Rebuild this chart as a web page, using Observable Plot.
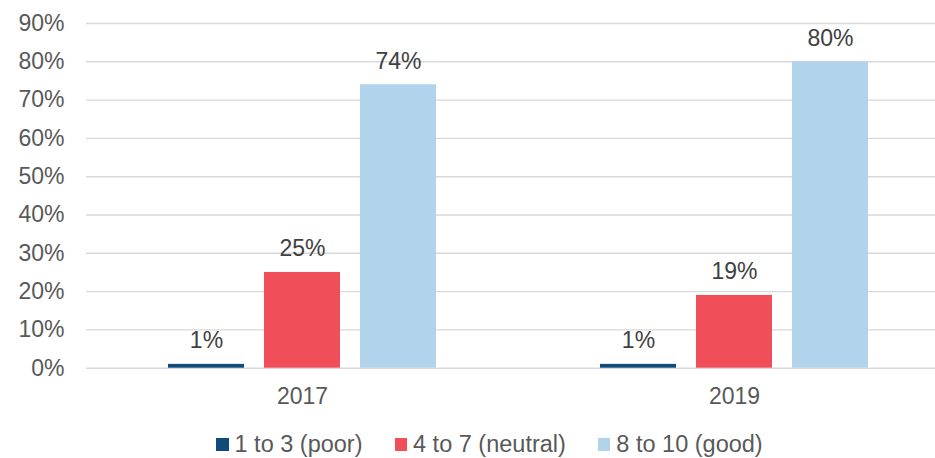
<!DOCTYPE html>
<html>
<head>
<meta charset="utf-8">
<script src="https://cdn.jsdelivr.net/npm/d3@7"></script>
<script src="https://cdn.jsdelivr.net/npm/@observablehq/plot@0.6"></script>
<style>
  html, body { margin: 0; padding: 0; background: #fff; }
  body { width: 935px; height: 458px; overflow: hidden; font-family: "Liberation Sans", Arial, sans-serif; }
  #chart svg { display: block; }
  .legend { display: flex; align-items: center; padding-left: 216px; margin-top: 23px; color: #595959; font-size: 23.5px; line-height: 23px; height: 23px; }
  .legend .item { display: flex; align-items: center; margin-right: 32px; }
  .legend .sw { width: 12.5px; height: 12.5px; margin-right: 6px; }
</style>
</head>
<body>
<div id="chart"></div>
<script>
const years = ["2017", "2019"];
const categories = ["1 to 3 (poor)", "4 to 7 (neutral)", "8 to 10 (good)"];
const values2017 = [1, 25, 74];
const values2019 = [1, 19, 80];
const colors = ["#0f4c7b", "#f04f5a", "#b1d3eb"];
const yTicks = [0, 10, 20, 30, 40, 50, 60, 70, 80, 90];

const seriesByYear = [values2017, values2019];
const rows = [];
years.forEach((year, yi) => {
  categories.forEach((category, ci) => {
    rows.push({year, yi, category, ci, value: seriesByYear[yi][ci]});
  });
});

const groupStep = 4.5;   // spacing between year groups (in bar steps)
const half = 0.396;      // half bar width (in bar steps)
const pos = d => d.yi * groupStep + d.ci;
const groupCenter = yi => yi * groupStep + (categories.length - 1) / 2;

const chart = Plot.plot({
  width: 935,
  height: 410,
  marginLeft: 86,
  marginRight: 0,
  marginTop: 23,
  marginBottom: 42.3,
  style: {fontFamily: "'Liberation Sans', Arial, sans-serif", fontSize: "23px", color: "#595959", background: "#fff"},
  x: {type: "linear", domain: [-1.25, 7.594], label: null},
  y: {domain: [0, 90], label: null},
  color: {domain: categories, range: colors},
  marks: [
    Plot.ruleY(yTicks, {stroke: "#d9d9d9", strokeWidth: 1.4}),
    Plot.rectY(rows, {x1: d => pos(d) - half, x2: d => pos(d) + half, y: "value", fill: "category"}),
    Plot.text(rows, {x: pos, y: "value", text: d => d.value + "%", lineAnchor: "bottom", dy: -16, fill: "#404040", fontSize: 23}),
    Plot.axisY({ticks: yTicks, tickFormat: d => d + "%", tickSize: 0, tickPadding: 22, fontSize: 23, label: null}),
    Plot.axisX({ticks: years.map((y, i) => groupCenter(i)), tickFormat: v => years[Math.round((v - 1) / groupStep)], tickSize: 0, tickPadding: 19, fontSize: 23, label: null})
  ]
});
document.getElementById("chart").appendChild(chart);

const legend = document.createElement("div");
legend.className = "legend";
categories.forEach((c, i) => {
  const item = document.createElement("div");
  item.className = "item";
  const sw = document.createElement("span");
  sw.className = "sw";
  sw.style.background = colors[i];
  const label = document.createElement("span");
  label.textContent = c;
  item.appendChild(sw);
  item.appendChild(label);
  legend.appendChild(item);
});
document.body.appendChild(legend);
</script>
</body>
</html>
